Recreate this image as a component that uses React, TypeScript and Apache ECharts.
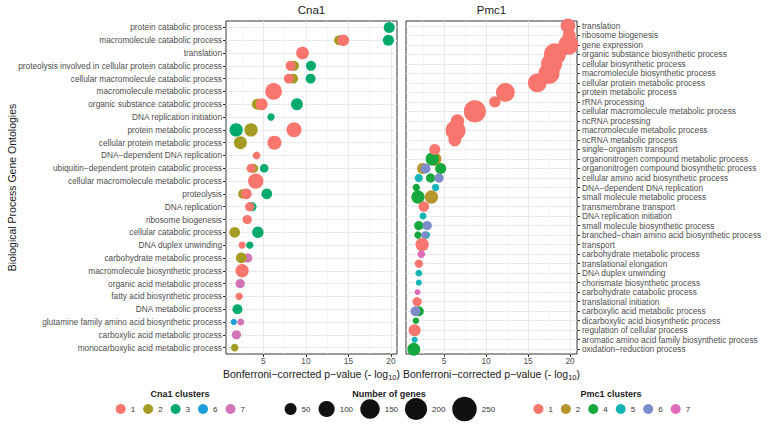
import { useEffect, useRef } from 'react';
import * as echarts from 'echarts';

// ---------- categories ----------
const cna1Terms = [
  'protein catabolic process',
  'macromolecule catabolic process',
  'translation',
  'proteolysis involved in cellular protein catabolic process',
  'cellular macromolecule catabolic process',
  'macromolecule metabolic process',
  'organic substance catabolic process',
  'DNA replication initiation',
  'protein metabolic process',
  'cellular protein metabolic process',
  'DNA\u2212dependent DNA replication',
  'ubiquitin\u2212dependent protein catabolic process',
  'cellular macromolecule metabolic process',
  'proteolysis',
  'DNA replication',
  'ribosome biogenesis',
  'cellular catabolic process',
  'DNA duplex unwinding',
  'carbohydrate metabolic process',
  'macromolecule biosynthetic process',
  'organic acid metabolic process',
  'fatty acid biosynthetic process',
  'DNA metabolic process',
  'glutamine family amino acid biosynthetic process',
  'carboxylic acid metabolic process',
  'monocarboxylic acid metabolic process',
];

const pmc1Terms = [
  'translation',
  'ribosome biogenesis',
  'gene expression',
  'organic substance biosynthetic process',
  'cellular biosynthetic process',
  'macromolecule biosynthetic process',
  'cellular protein metabolic process',
  'protein metabolic process',
  'rRNA processing',
  'cellular macromolecule metabolic process',
  'ncRNA processing',
  'macromolecule metabolic process',
  'ncRNA metabolic process',
  'single\u2212organism transport',
  'organonitrogen compound metabolic process',
  'organonitrogen compound biosynthetic process',
  'cellular amino acid biosynthetic process',
  'DNA\u2212dependent DNA replication',
  'small molecule metabolic process',
  'transmembrane transport',
  'DNA replication initiation',
  'small molecule biosynthetic process',
  'branched\u2212chain amino acid biosynthetic process',
  'transport',
  'carbohydrate metabolic process',
  'translational elongation',
  'DNA duplex unwinding',
  'chorismate biosynthetic process',
  'carbohydrate catabolic process',
  'translational initiation',
  'carboxylic acid metabolic process',
  'dicarboxylic acid biosynthetic process',
  'regulation of cellular process',
  'aromatic amino acid family biosynthetic process',
  'oxidation\u2212reduction process',
];

// ---------- values: [term, -log10 p, number of genes] ----------
type Pt = [string, number, number];

const cna1Cluster1: Pt[] = [
  ['macromolecule catabolic process', 14.4, 47],
  ['translation', 9.6, 57],
  ['proteolysis involved in cellular protein catabolic process', 8.2, 32],
  ['cellular macromolecule catabolic process', 8.0, 32],
  ['macromolecule metabolic process', 6.2, 107],
  ['organic substance catabolic process', 4.8, 50],
  ['protein metabolic process', 8.6, 84],
  ['cellular protein metabolic process', 6.3, 72],
  ['DNA\u2212dependent DNA replication', 4.2, 17],
  ['ubiquitin\u2212dependent protein catabolic process', 3.55, 25],
  ['cellular macromolecule metabolic process', 4.1, 88],
  ['proteolysis', 3.0, 38],
  ['DNA replication', 3.4, 27],
  ['ribosome biogenesis', 3.1, 27],
  ['DNA duplex unwinding', 2.5, 13],
  ['macromolecule biosynthetic process', 2.5, 64],
  ['fatty acid biosynthetic process', 2.15, 15],
];
const cna1Cluster2: Pt[] = [
  ['macromolecule catabolic process', 13.9, 32],
  ['proteolysis involved in cellular protein catabolic process', 8.6, 32],
  ['cellular macromolecule catabolic process', 8.5, 32],
  ['organic substance catabolic process', 4.3, 41],
  ['protein metabolic process', 3.55, 64],
  ['cellular protein metabolic process', 2.3, 60],
  ['ubiquitin\u2212dependent protein catabolic process', 3.85, 25],
  ['proteolysis', 2.6, 30],
  ['cellular catabolic process', 1.63, 38],
  ['carbohydrate metabolic process', 2.4, 38],
  ['monocarboxylic acid metabolic process', 1.63, 17],
];
const cna1Cluster3: Pt[] = [
  ['protein catabolic process', 19.8, 41],
  ['macromolecule catabolic process', 19.7, 41],
  ['proteolysis involved in cellular protein catabolic process', 10.6, 32],
  ['cellular macromolecule catabolic process', 10.55, 32],
  ['organic substance catabolic process', 8.95, 50],
  ['DNA replication initiation', 5.9, 15],
  ['protein metabolic process', 1.8, 64],
  ['ubiquitin\u2212dependent protein catabolic process', 5.1, 22],
  ['proteolysis', 5.4, 38],
  ['DNA replication', 3.65, 27],
  ['cellular catabolic process', 4.35, 45],
  ['DNA duplex unwinding', 3.4, 15],
  ['DNA metabolic process', 1.95, 32],
];
const cna1Cluster6: Pt[] = [
  ['glutamine family amino acid biosynthetic process', 1.52, 9],
];
const cna1Cluster7: Pt[] = [
  ['carbohydrate metabolic process', 3.15, 27],
  ['organic acid metabolic process', 2.27, 27],
  ['glutamine family amino acid biosynthetic process', 2.34, 13],
  ['carboxylic acid metabolic process', 1.83, 27],
];

const pmc1Cluster1: Pt[] = [
  ['translation', 19.75, 80],
  ['ribosome biogenesis', 19.9, 60],
  ['gene expression', 19.8, 160],
  ['organic substance biosynthetic process', 18.2, 197],
  ['cellular biosynthetic process', 17.8, 180],
  ['macromolecule biosynthetic process', 17.5, 180],
  ['cellular protein metabolic process', 16.1, 140],
  ['protein metabolic process', 12.3, 140],
  ['rRNA processing', 11.05, 44],
  ['cellular macromolecule metabolic process', 8.67, 200],
  ['ncRNA processing', 6.6, 64],
  ['macromolecule metabolic process', 6.37, 160],
  ['ncRNA metabolic process', 6.28, 57],
  ['single\u2212organism transport', 3.9, 41],
  ['transmembrane transport', 2.6, 38],
  ['transport', 2.4, 64],
  ['translational elongation', 2.0, 20],
  ['translational initiation', 1.8, 27],
  ['regulation of cellular process', 1.5, 50],
];
const pmc1Cluster2: Pt[] = [
  ['organonitrogen compound metabolic process', 3.9, 64],
  ['organonitrogen compound biosynthetic process', 2.45, 41],
  ['small molecule metabolic process', 3.5, 64],
];
const pmc1Cluster4: Pt[] = [
  ['organonitrogen compound metabolic process', 3.6, 64],
  ['organonitrogen compound biosynthetic process', 4.6, 41],
  ['cellular amino acid biosynthetic process', 3.4, 27],
  ['DNA\u2212dependent DNA replication', 1.7, 15],
  ['small molecule metabolic process', 1.9, 64],
  ['small molecule biosynthetic process', 2.0, 27],
  ['branched\u2212chain amino acid biosynthetic process', 1.9, 15],
  ['carboxylic acid metabolic process', 2.0, 32],
  ['dicarboxylic acid biosynthetic process', 1.65, 11],
  ['oxidation\u2212reduction process', 1.4, 60],
];
const pmc1Cluster5: Pt[] = [
  ['cellular amino acid biosynthetic process', 2.0, 20],
  ['DNA\u2212dependent DNA replication', 4.0, 15],
  ['DNA replication initiation', 2.5, 13],
  ['branched\u2212chain amino acid biosynthetic process', 2.9, 15],
  ['DNA duplex unwinding', 2.0, 12],
  ['chorismate biosynthetic process', 2.0, 9],
  ['aromatic amino acid family biosynthetic process', 1.5, 9],
];
const pmc1Cluster6: Pt[] = [
  ['organonitrogen compound biosynthetic process', 2.8, 32],
  ['cellular amino acid biosynthetic process', 4.4, 27],
  ['small molecule biosynthetic process', 3.0, 27],
  ['branched\u2212chain amino acid biosynthetic process', 2.7, 15],
  ['carboxylic acid metabolic process', 1.6, 32],
];
const pmc1Cluster7: Pt[] = [
  ['carbohydrate metabolic process', 2.3, 17],
  ['carbohydrate catabolic process', 1.85, 8],
];

// ---------- legends / ticks ----------
const cna1Clusters = ['1', '2', '3', '6', '7'];
const pmc1Clusters = ['1', '2', '4', '5', '6', '7'];
const sizeBreaks = [50, 100, 150, 200, 250];
const xTicks = [5, 10, 15, 20];
const xMinorGrid = [2.5, 7.5, 12.5, 17.5];

const cna1Data: Record<string, Pt[]> = {
  '1': cna1Cluster1, '2': cna1Cluster2, '3': cna1Cluster3, '6': cna1Cluster6, '7': cna1Cluster7,
};
const pmc1Data: Record<string, Pt[]> = {
  '1': pmc1Cluster1, '2': pmc1Cluster2, '4': pmc1Cluster4, '5': pmc1Cluster5, '6': pmc1Cluster6, '7': pmc1Cluster7,
};
const cna1Colors: Record<string, string> = {
  '1': '#F8766D', '2': '#A39B22', '3': '#00AA6C', '6': '#1BA0DA', '7': '#D274B5',
};
const pmc1Colors: Record<string, string> = {
  '1': '#F8766D', '2': '#B8962E', '4': '#16A83C', '5': '#17B4B6', '6': '#7B8CC9', '7': '#DF6DB9',
};
const cna1DrawOrder = ['7', '6', '3', '2', '1'];
const pmc1DrawOrder = ['2', '5', '4', '6', '1', '7'];

const FONT = 'Liberation Sans, Arial, Helvetica, sans-serif';
const diam = (n: number) => 1.8 + 1.44 * Math.sqrt(n);

function expandedRange(groups: Record<string, Pt[]>) {
  const xs: number[] = [];
  Object.values(groups).forEach((g) => g.forEach((p) => xs.push(p[1])));
  const lo = Math.min(...xs);
  const hi = Math.max(...xs);
  const pad = (hi - lo) * 0.05;
  return [lo - pad, hi + pad];
}

const PANEL_TOP = 21;
const PANEL_H = 333;
const PANEL_W = 171;
const LEFT_X = 226;
const RIGHT_X = 406;

function gridLineSeries(gridIdx: number, terms: string[]) {
  const major = { color: '#EBEBEB', width: 1, type: 'solid' };
  const minor = { color: '#F2F2F2', width: 0.6, type: 'solid' };
  return {
    type: 'scatter',
    name: 'grid' + gridIdx,
    xAxisIndex: gridIdx,
    yAxisIndex: gridIdx,
    data: [],
    silent: true,
    z: 1,
    markLine: {
      z: 1,
      silent: true,
      symbol: ['none', 'none'],
      label: { show: false },
      emphasis: { disabled: true },
      animation: false,
      data: [
        ...xMinorGrid.map((v) => ({ xAxis: v, lineStyle: minor })),
        ...xTicks.map((v) => ({ xAxis: v, lineStyle: major })),
        ...terms.map((_, i) => ({ yAxis: i, lineStyle: major })),
      ],
    },
  };
}

function pointSeries(panel: string, gridIdx: number, groups: Record<string, Pt[]>, colors: Record<string, string>, order: string[]) {
  return order.map((c) => ({
    type: 'scatter',
    name: panel + '|' + c,
    xAxisIndex: gridIdx,
    yAxisIndex: gridIdx,
    z: 3,
    data: groups[c].map((p) => [p[1], p[0], p[2]]),
    symbolSize: (v: any[]) => diam(v[2]),
    itemStyle: { color: colors[c], opacity: 1 },
    emphasis: { disabled: true },
  }));
}

function xAxisFor(gridIdx: number, range: number[]) {
  return {
    type: 'value',
    gridIndex: gridIdx,
    min: range[0],
    max: range[1],
    axisLine: { show: false },
    axisTick: { show: true, length: 3, customValues: xTicks, lineStyle: { color: '#333333', width: 1 } },
    axisLabel: { customValues: xTicks, fontSize: 8.3, color: '#4D4D4D', margin: 3, fontFamily: FONT },
    splitLine: { show: false },
    name: 'Bonferroni\u2212corrected p\u2212value (- log{sub|10})',
    nameLocation: 'middle',
    nameGap: 13,
    nameMoveOverlap: false,
    nameTextStyle: {
      fontSize: 10.5,
      color: '#1A1A1A',
      fontFamily: FONT,
      rich: { sub: { fontSize: 7.5, color: '#1A1A1A', fontFamily: FONT, padding: [6, 0, 0, 0] } },
    },
  };
}

function yAxisFor(gridIdx: number, terms: string[], position: string, margin: number) {
  return {
    type: 'category',
    gridIndex: gridIdx,
    data: terms,
    inverse: true,
    position,
    axisLine: { show: false },
    axisTick: { show: true, alignWithLabel: true, length: 3, lineStyle: { color: '#333333', width: 1 } },
    axisLabel: { interval: 0, fontSize: 8.3, color: '#4D4D4D', margin, fontFamily: FONT },
    splitLine: { show: false },
  };
}

export default function App() {
  const ref = useRef<HTMLDivElement>(null);

  useEffect(() => {
    document.body.style.margin = '0';
    if (!ref.current) return;
    const chart = echarts.init(ref.current, undefined, { renderer: 'svg' });

    const cnaRange = expandedRange(cna1Data);
    const pmcRange = expandedRange(pmc1Data);

    const legendTitleStyle = { fontSize: 9, fontWeight: 'bold', fill: '#1A1A1A', fontFamily: FONT, textAlign: 'center', textVerticalAlign: 'middle' };

    const sizeLegendX = [290.6, 326.6, 370, 416, 464.5];
    const sizeLegendGraphics: any[] = [];
    sizeBreaks.forEach((b, i) => {
      const r = diam(b) / 2;
      sizeLegendGraphics.push({
        type: 'circle',
        shape: { cx: sizeLegendX[i], cy: 409, r },
        style: { fill: '#111111' },
        silent: true,
      });
      sizeLegendGraphics.push({
        type: 'text',
        x: sizeLegendX[i] + r + 5,
        y: 409,
        style: { text: String(b), fontSize: 8, fill: '#333333', fontFamily: FONT, textAlign: 'left', textVerticalAlign: 'middle' },
        silent: true,
      });
    });

    const clusterLegend = (panel: string, clusters: string[], left: number) => ({
      data: clusters.map((c) => panel + '|' + c),
      left,
      top: 404,
      orient: 'horizontal',
      padding: 0,
      icon: 'circle',
      itemWidth: 10,
      itemHeight: 10,
      itemGap: 8,
      selectedMode: false,
      formatter: (n: string) => n.split('|')[1],
      textStyle: { fontSize: 8, color: '#333333', fontFamily: FONT },
    });

    const option: any = {
      animation: false,
      backgroundColor: '#ffffff',
      textStyle: { fontFamily: FONT },
      grid: [
        { left: LEFT_X, top: PANEL_TOP, width: PANEL_W, height: PANEL_H, show: true, backgroundColor: '#ffffff', borderColor: '#333333', borderWidth: 1, containLabel: false, outerBoundsMode: 'none' },
        { left: RIGHT_X, top: PANEL_TOP, width: PANEL_W, height: PANEL_H, show: true, backgroundColor: '#ffffff', borderColor: '#333333', borderWidth: 1, containLabel: false, outerBoundsMode: 'none' },
      ],
      xAxis: [xAxisFor(0, cnaRange), xAxisFor(1, pmcRange)],
      yAxis: [yAxisFor(0, cna1Terms, 'left', 4), yAxisFor(1, pmc1Terms, 'right', 5)],
      legend: [clusterLegend('Cna1', cna1Clusters, 115.7), clusterLegend('Pmc1', pmc1Clusters, 533.4)],
      series: [
        gridLineSeries(0, cna1Terms),
        gridLineSeries(1, pmc1Terms),
        ...pointSeries('Cna1', 0, cna1Data, cna1Colors, cna1DrawOrder),
        ...pointSeries('Pmc1', 1, pmc1Data, pmc1Colors, pmc1DrawOrder),
      ],
      graphic: [
        { type: 'text', x: LEFT_X + PANEL_W / 2, y: 10, style: { text: 'Cna1', fontSize: 11.5, fill: '#1A1A1A', fontFamily: FONT, textAlign: 'center', textVerticalAlign: 'middle' }, silent: true },
        { type: 'text', x: RIGHT_X + PANEL_W / 2, y: 10, style: { text: 'Pmc1', fontSize: 11.5, fill: '#1A1A1A', fontFamily: FONT, textAlign: 'center', textVerticalAlign: 'middle' }, silent: true },
        { type: 'text', x: 11.5, y: PANEL_TOP + PANEL_H / 2, rotation: Math.PI / 2, style: { text: 'Biological Process Gene Ontologies', fontSize: 10.5, fill: '#1A1A1A', fontFamily: FONT, textAlign: 'center', textVerticalAlign: 'middle' }, silent: true },
        { type: 'text', x: 180, y: 394, style: { text: 'Cna1 clusters', ...legendTitleStyle }, silent: true },
        { type: 'text', x: 389, y: 394, style: { text: 'Number of genes', ...legendTitleStyle }, silent: true },
        { type: 'text', x: 611, y: 394, style: { text: 'Pmc1 clusters', ...legendTitleStyle }, silent: true },
        ...sizeLegendGraphics,
      ],
    };

    chart.setOption(option);
    return () => chart.dispose();
  }, []);

  return <div ref={ref} style={{ position: 'absolute', left: 0, top: 0, width: 768, height: 426 }} />;
}
